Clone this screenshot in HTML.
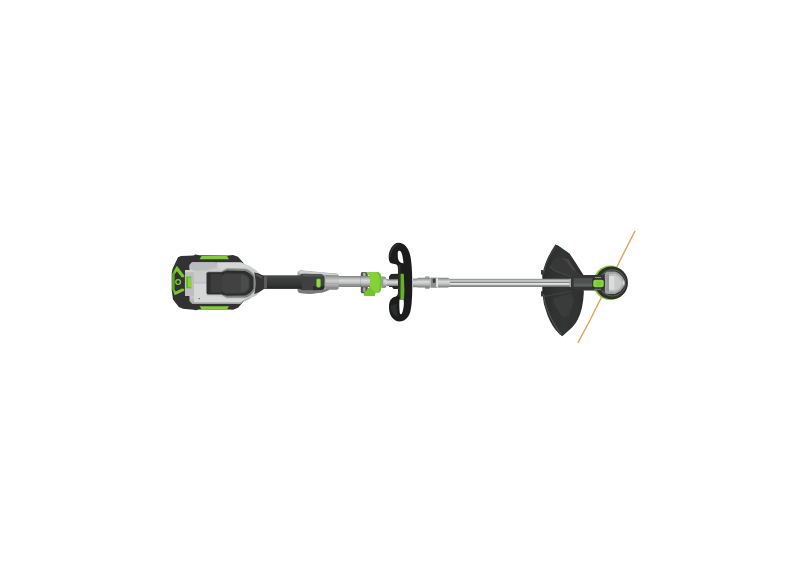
<!DOCTYPE html>
<html lang="en">
<head>
<meta charset="utf-8">
<title>String trimmer</title>
<style>
html,body{margin:0;padding:0;background:#fff;}
body{width:800px;height:566px;overflow:hidden;}
svg{display:block;}
</style>
</head>
<body>
<svg width="800" height="566" viewBox="0 0 800 566">
<defs>
  <linearGradient id="steel" x1="0" y1="0" x2="0" y2="1">
    <stop offset="0" stop-color="#a2a3a3"/>
    <stop offset="0.1" stop-color="#979898"/>
    <stop offset="0.22" stop-color="#c6c7c7"/>
    <stop offset="0.34" stop-color="#bcbdbd"/>
    <stop offset="0.43" stop-color="#7c7d7d"/>
    <stop offset="0.5" stop-color="#898a8a"/>
    <stop offset="0.58" stop-color="#e4e4e4"/>
    <stop offset="0.7" stop-color="#d6d6d6"/>
    <stop offset="0.8" stop-color="#9c9d9d"/>
    <stop offset="0.92" stop-color="#707171"/>
    <stop offset="1" stop-color="#808181"/>
  </linearGradient>
  <linearGradient id="steel2" x1="0" y1="0" x2="0" y2="1">
    <stop offset="0" stop-color="#7b7c7c"/>
    <stop offset="0.15" stop-color="#a4a5a5"/>
    <stop offset="0.38" stop-color="#d8d8d8"/>
    <stop offset="0.6" stop-color="#c6c7c7"/>
    <stop offset="0.85" stop-color="#979898"/>
    <stop offset="1" stop-color="#6c6d6d"/>
  </linearGradient>
  <linearGradient id="darktube" x1="0" y1="0" x2="0" y2="1">
    <stop offset="0" stop-color="#4a4b4b"/>
    <stop offset="0.3" stop-color="#3d3e3e"/>
    <stop offset="0.7" stop-color="#333434"/>
    <stop offset="1" stop-color="#262727"/>
  </linearGradient>
  <linearGradient id="housing" x1="0" y1="0" x2="0" y2="1">
    <stop offset="0" stop-color="#b9babb"/>
    <stop offset="0.15" stop-color="#c9cacb"/>
    <stop offset="0.5" stop-color="#cbcccd"/>
    <stop offset="0.85" stop-color="#c6c7c8"/>
    <stop offset="1" stop-color="#a5a6a7"/>
  </linearGradient>
  <linearGradient id="guard" x1="0" y1="0" x2="1" y2="0">
    <stop offset="0" stop-color="#2a2b2b"/>
    <stop offset="0.5" stop-color="#343535"/>
    <stop offset="1" stop-color="#2d2e2e"/>
  </linearGradient>
  <radialGradient id="cap" cx="0.45" cy="0.4" r="0.7">
    <stop offset="0" stop-color="#e2e2e2"/>
    <stop offset="0.6" stop-color="#bdbebf"/>
    <stop offset="1" stop-color="#8c8d8e"/>
  </radialGradient>
  <filter id="soft" x="-5%" y="-5%" width="110%" height="110%">
    <feGaussianBlur stdDeviation="0.55"/>
  </filter>
</defs>
<rect width="800" height="566" fill="#ffffff"/>
<g filter="url(#soft)">

<!-- ===== orange trimmer line ===== -->
<path d="M634.9 231.3 L621.8 257 L600.1 300 L590.1 320 L578.1 342.4" fill="none" stroke="#e0a058" stroke-width="1.4" stroke-linecap="round"/>

<!-- ===== guard ===== -->
<g id="guard-g">
  <path d="M555.4 244.4 L558.5 245.8 L569.5 253.4 Q575.8 262.5 583.4 275 L583.8 293 Q583 309 578 319 Q576 323.5 572 327.5 L562.3 336.3 L559.5 334.2 Q552 327 547.4 315 Q543 304 542.3 293 L542.3 275 Q544.8 260 555.4 244.4 Z" fill="url(#guard)"/>
  <path d="M549.2 266.5 L556 257 L561.6 257.6 L568.6 259.4 L576.6 271.8 L581 275.6 L572 277 L555.4 270.9 Z" fill="#383939"/>
  <path d="M561.6 257.6 L568.6 259.4 L576.6 271.8 L573 270.5 L566.5 261.5 Z" fill="#464747"/>
  <path d="M549.2 266.5 L555.4 270.9 L574 278" fill="none" stroke="#4b4c4c" stroke-width="0.8"/>
  <path d="M553.6 298.2 L571.3 293 L574 300.9 L568.6 315.9 L562.5 317.6 L553.6 303.5 Z" fill="#3a3b3b"/>
  <path d="M544 296.5 L552 295 L571.5 291" fill="none" stroke="#474848" stroke-width="0.8"/>
  <path d="M543.6 274 Q546 260 555.6 246.3" fill="none" stroke="#474848" stroke-width="1"/>
  <path d="M543.6 294 Q545 312 561 334.2" fill="none" stroke="#505151" stroke-width="1.2"/>
  <rect x="541.1" y="270" width="1.8" height="4.6" fill="#2a2b2b"/>
  <rect x="541.1" y="291.2" width="1.8" height="5.2" fill="#2a2b2b"/>
</g>

<!-- ===== main thin shaft ===== -->
<rect x="445" y="278.8" width="127" height="8.1" fill="url(#steel)"/>
<path d="M569.5 278.7 h1 q3 0.6 3 4.15 q0 3.5 -3 4.15 h-1 z" fill="#a9aaab"/>

<!-- ===== trimmer head ===== -->
<g id="head">
  <circle cx="610.2" cy="282.8" r="17.2" fill="#7fcf34"/>
  <circle cx="611.5" cy="282.9" r="16.4" fill="#2d2e2e"/>
  <circle cx="612.4" cy="282.9" r="13.6" fill="#5c5d5d"/>
  <circle cx="612.8" cy="282.9" r="12.5" fill="#343535"/>
  <!-- arm -->
  <path d="M571 277.6 Q573 275.4 580 275.1 L606 275.1 L606 290.4 L580 290.4 Q573 290 571 287.8 Z" fill="#343535"/>
  <path d="M573.5 278.2 L592.6 278.2 L592.6 287 L573.5 287 Z" fill="#505151"/>
  <rect x="574" y="283.6" width="18.6" height="2.6" fill="#5e5f5f"/>
  <rect x="595" y="277.1" width="6.2" height="1" fill="#9a9b9b"/>
  <rect x="594.4" y="288.8" width="6.6" height="0.9" fill="#8a8b8b"/>
  <!-- cap -->
  <path d="M604.8 273.4 Q606 271.4 609 271.4 L615 271.6 Q621.5 273.5 624.4 280.3 L624.6 285.3 Q621.5 292 615 293.9 L609 294.1 Q606 294.1 604.8 292.2 Z" fill="#9fa0a1"/>
  <path d="M606.2 274.2 L614.8 273.6 Q620.5 275.5 623 281 L623 284.6 Q620.5 290 614.8 292 L606.2 291.4 Z" fill="#bcbdbe"/>
  <path d="M606.2 274.2 L609 274 L609 291.6 L606.2 291.4 Z" fill="#969797"/>
  <path d="M609 276.2 L614.7 275.8 L614.7 290.1 L609 289.8 Z" fill="#dcdcdc"/>
  <path d="M614.8 275.5 Q619.5 277 621.8 282.8 Q619.5 288.6 614.8 290.2 Z" fill="#c9caca"/>
  <path d="M623 280.6 L624.6 281.4 L624.6 284.4 L623 285 Z" fill="#dadada"/>
  <!-- button -->
  <rect x="592.4" y="278.4" width="12.2" height="9.8" rx="1.8" fill="#2a2b2b"/>
  <rect x="593.2" y="279.8" width="10.6" height="7.4" rx="2" fill="#86d43a"/>
  <rect x="596.5" y="281.6" width="4" height="3.8" rx="1" fill="#7ac832"/>
</g>

<!-- ===== coupler on thin shaft ===== -->
<g id="coupler2">
  <rect x="413" y="278.6" width="5" height="8.6" fill="url(#steel2)"/>
  <rect x="417.5" y="277.8" width="13" height="9.8" rx="0.6" fill="url(#steel2)"/>
  <rect x="425" y="276.2" width="4.5" height="12.8" rx="0.8" fill="#a9aaab"/>
  <rect x="425" y="277.8" width="4.5" height="9.8" fill="url(#steel2)"/>
  <rect x="430.5" y="277.6" width="7" height="10.2" fill="#8e8f90"/>
  <rect x="432.8" y="278.6" width="2.6" height="4.2" fill="#3a3b3b"/>
  <rect x="436.2" y="278.4" width="1.6" height="8.6" fill="#ececec"/>
  <path d="M438 277.8 L448 277.8 L450 279.1 L450 286.6 L448 287.6 L438 287.6 Z" fill="url(#steel2)"/>
</g>

<!-- ===== front handle ===== -->
<g id="handle">
  <!-- hub behind -->
  <path d="M389 276.5 L391 274 L398 273.7 L398 289 L393.5 289 L392 287 L389 287 Z" fill="#262626"/>
  <path d="M382.5 276.7 L385 276.7 Q386.6 277.4 386.6 279.3 L386.6 285.8 Q386.6 287.2 385 287.7 L382.5 287.7 Z" fill="url(#steel2)"/>
  <rect x="386.4" y="279.2" width="11.6" height="6.8" fill="url(#steel2)"/>
  <path d="M388.7 256 C388.9 251 392.5 242.7 398.5 242.7 C404.5 242.7 408.5 248 410 254.5 C411.4 260 412.1 268 412.3 282 C412.4 296 411.8 305 410.5 311 C409 317 405 321.5 399.5 321.5 C394 321.5 389.2 316 389 308 C388.9 303 389.6 300.4 391.8 298.4 C393.5 297.2 395 297 396.2 296.3 C397.6 295.4 398 294 398 291.5 L398 269.5 C398 266 397.3 264.6 395.7 264.2 L392 263.5 C389.5 263 388.6 260.5 388.7 256 Z
           M397.8 252.4 C397.9 250.7 399.6 250.4 400.8 251.4 C402 253 402.9 257 403.5 263.3 C400.8 263.2 399 261.6 398.2 259.2 C397.7 257.4 397.7 254.4 397.8 252.4 Z
           M399.5 299.6 L403.6 299.4 C404.2 303 403.8 309 402 313.5 C401.3 314.6 400.2 314.4 399.8 313 C399.3 309 399.2 304 399.5 299.6 Z" fill="#1e1f1f" fill-rule="evenodd"/>
  <path d="M398.3 266 L400.4 264 L400.4 299 L398.3 296 Z" fill="#2f3030"/>
  <path d="M390 257 C390.5 251 394 244.6 398.8 244.4" fill="none" stroke="#353636" stroke-width="1.2"/>
  <path d="M390.4 306 L396.6 303.5 L397.2 316.5 C393 315 390.8 311 390.4 306 Z" fill="#2c2d2d"/>
  <path d="M400.6 273.8 L403.8 273.8 L404.4 290 L404 299.2 L400.4 299.2 Z" fill="#62b528"/>
  
</g>

<!-- ===== green clamp + silver tube ===== -->
<g id="clamp">
  <rect x="329" y="276" width="41.5" height="10.9" fill="url(#steel2)"/>
  <path d="M329 284.6 L370 284.6" stroke="#8b8c8d" stroke-width="0.6"/>
  <rect x="360.8" y="272.1" width="7" height="21.2" rx="1.6" fill="#565757"/>
  <rect x="363.2" y="272.8" width="2.2" height="3.4" fill="#b9baba"/>
  <rect x="363.2" y="287.4" width="2.2" height="4.4" fill="#a9aaab"/>
  <rect x="360.8" y="276" width="9.5" height="10.9" fill="url(#steel2)"/>
  <path d="M366 272.1 L378 272.1 Q380.6 273 381.2 276 Q381.9 279 381.9 282.5 Q381.9 286.5 381.2 288.5 Q380.6 291.4 379.3 292.6 L375.4 293 L374.8 295.9 L364.6 295.9 L363.4 293.9 L369.9 286.8 L369.9 277 Z" fill="#85d239"/>
  <path d="M363.4 293.9 L369.9 286.8 L371.5 288.5 L375.4 293 L374.8 295.9 L364.6 295.9 Z" fill="#73c22f"/>
  <path d="M376.4 272.1 L378 272.1 Q380.6 273 381.2 276 Q381.9 279 381.9 282.5 Q381.9 286.5 381.2 288.5 Q380.6 291.4 379.3 292.6 L378 292.7 Q380 288 380 282.5 Q380 276 376.4 272.1 Z" fill="#70bf2e"/>
  <rect x="381.6" y="276.4" width="1.6" height="11.6" fill="#969798"/>
</g>

<!-- ===== mid coupler ===== -->
<g id="coupler1">
  <path d="M297.5 272.5 Q298 270.4 300.5 270.2 L321 272.2 L337.2 273.6 L338.6 275.4 L338.6 288.6 L337 289.9 L329 290 L323.5 292.2 L310 294 L299.5 293 Q297.5 292.2 297.5 290 Z" fill="#a3a4a5"/>
  <path d="M298.2 272 Q298.6 270.8 300.5 270.6 L321 272.5 L337 273.9 L337.6 275.6 L321 274.6 L300 273.6 Z" fill="#cfd0d1"/>
  <path d="M297.8 288.6 L323.5 289.6 L328.5 289 L329 290 L323.5 292.2 L310 294 L299.5 293 Q297.6 292.2 297.6 290 Z" fill="#7a7b7c"/>
  <path d="M300.2 275 Q301 273.7 304 273.7 L320.5 274 Q324.5 274.8 324.5 278 L324.5 286.5 Q324.5 290 320.5 290 L304 290.3 Q301 290.3 300.2 289.2 Z" fill="#404141"/>
  <path d="M303 274 L320 274.2 Q322.5 274.6 323.4 276.4 L303 276.6 Z" fill="#575858"/>
  <path d="M313 286 L324.4 286 Q324.4 290 320.5 290 L313 290.2 Z" fill="#2b2c2c"/>
  <rect x="316.4" y="278.8" width="4.3" height="8.6" rx="1.3" fill="#7ed030"/>
  <rect x="317.2" y="279.6" width="2.4" height="7" rx="1" fill="#90dc48"/>
  <rect x="325.5" y="275.4" width="13.1" height="13.2" fill="url(#steel2)" opacity="0.75"/>
  <path d="M325.5 283.4 L338.6 283.4" stroke="#8f9091" stroke-width="0.5"/>
</g>

<!-- ===== dark tube ===== -->
<rect x="258" y="275.3" width="44" height="13.6" fill="url(#darktube)"/>

<!-- ===== battery ===== -->
<g id="battery">
  <path d="M178 257.2 L181 256 L193.5 255.4 L195.5 254.6 L199.5 255.2 L228 255.4 L233 255 L238 256.8 L243.5 263 L243.5 301.5 L238 307.8 L233 309.8 L228 309.4 L199.5 309.6 L195.5 310.2 L193.5 309.8 L183 308.8 L178.8 306.9 L173 299.4 L171.7 290.2 L171.7 273 L172.5 269 Z" fill="#313232"/>
  <path d="M201.5 256 L227 256 L229 259.3 L199.5 259.3 Z" fill="#7fd02f"/>
  <path d="M199.5 306.2 L229 306.2 L227 309.2 L201.5 309.2 Z" fill="#7fd02f"/>
  <!-- left face -->
  <path d="M176.9 265.8 L184.3 275.4 L184.3 290.7 L174.7 295.2 L172.4 289.5 L172.4 273.5 Z" fill="#78c92d"/>
  <path d="M172.4 273.5 L174.6 271 L174.6 292.5 L172.4 289.5 Z" fill="#5aa626"/>
  <path d="M176.9 271.2 L181.8 277.4 L184.6 277 L184.6 289 L181.8 288.6 L175.8 291.4 L174.6 289.6 L174.6 274.6 Z" fill="#303131"/>
  <circle cx="178.1" cy="282" r="2.35" fill="none" stroke="#80d230" stroke-width="1.3"/>
</g>

<!-- ===== power head housing ===== -->
<g id="housing">
  <path d="M189.5 265 L192 262.2 L241 262.2 L244 263.8 L250 266.3 L256 270.3 Q260.5 273.5 260.8 278 L260.8 288 Q260.5 292 257 295 L250 298.6 L244 301.2 L240 303.7 L192 303.7 L189.5 301 Z" fill="url(#housing)"/>
  <!-- top band shading -->
  <path d="M192 262.2 L215 262.2 L217 267.6 L206 270.5 L194 270.5 L189.5 268 L189.5 265 Z" fill="#bbbcbd"/>
  <path d="M217 262.6 L241 262.6 L244 264.2 L250 266.8 L253 268.8 L226 268.2 L222 270.4 L218 268 Z" fill="#d4d5d5"/>
  <path d="M194 283 L206.5 283 L206.5 296 L222 296.5 L226 298.5 L247 298.5 L240 302.6 L194 302.6 Z" fill="#d6d7d7"/>
  <path d="M192 303.7 L240 303.7 L244 301.2 L250 298.6 L250 297.6 L244 300.2 L240 302.6 L192 302.6 Z" fill="#a9aaab"/>
  <!-- latch -->
  <rect x="185" y="270" width="9" height="26" fill="#bdbebf"/>
  <rect x="185" y="270" width="9" height="2.2" fill="#cfd0d0"/>
  <rect x="186.2" y="276.5" width="5" height="11.8" fill="#64b626"/>
  <rect x="188" y="277.6" width="3.2" height="9.6" fill="#84d439"/>
  <path d="M194 283 L206.5 283" stroke="#a9aaab" stroke-width="0.6"/>
  <circle cx="199.3" cy="298.6" r="0.7" fill="#4a4b4b"/>
  <!-- lip around recess -->
  <path d="M222 271.2 L227 268.6 L246 269 Q252 271 255 276.5 L255 289.5 Q252 295.5 246 297.6 L227 297.8 L222 295.3 Z" fill="#7d7e7f"/>
  <path d="M222 271.2 L227 268.6 L246 269 Q252 271 255 276.5" fill="none" stroke="#9fa0a1" stroke-width="0.8"/>
  <!-- grip recess -->
  <path d="M206.5 273.5 Q206.5 272 208.5 272 L222 272 L227 270.6 L245 271 Q251 273 253.4 277.5 L253.4 288.5 Q251 293.5 245 295.6 L227 295.8 L222 294.5 L208.5 294.5 Q206.5 294.5 206.5 293 Z" fill="#2e2f2f"/>
  <path d="M210.5 274 L221.5 274 L221.5 292.8 L210.5 292.8 Z" fill="#3d3e3e"/>
  <path d="M221.5 276 L225.5 273.5 L244 273.8 Q248.5 275.5 249.5 279 L249.5 287.5 Q248.5 291.5 244 293.2 L225.5 293.5 L221.5 291 Z" fill="#424343"/>
  <path d="M241 275 Q247 276 248.4 279.5 L248.4 287 Q247 291 241 292 Z" fill="#4c4d4d"/>
  <path d="M206.8 273.5 Q206.8 272.2 208.5 272.2 L222 272.2" fill="none" stroke="#5b5c5c" stroke-width="0.7"/>
  <!-- neck -->
  <path d="M254 272.5 Q259.5 273.2 262.8 275.6 Q264.2 276.6 266 276.6 L266 288.6 Q264.2 288.6 262.8 289.8 Q259.5 292.8 254 294.2 Q256 283 254 272.5 Z" fill="#343535"/>
  <rect x="264" y="276.3" width="3" height="12.4" fill="#5a5b5b"/>
  <path d="M255.5 273.8 Q259 274.3 262 276.6 L262 279 Q259 276.5 256 276 Z" fill="#515252"/>
  <path d="M254.3 273.2 Q256.2 283 254.3 293.6" fill="none" stroke="#a5a6a7" stroke-width="0.9"/>
</g>

</g>
</svg>
</body>
</html>
